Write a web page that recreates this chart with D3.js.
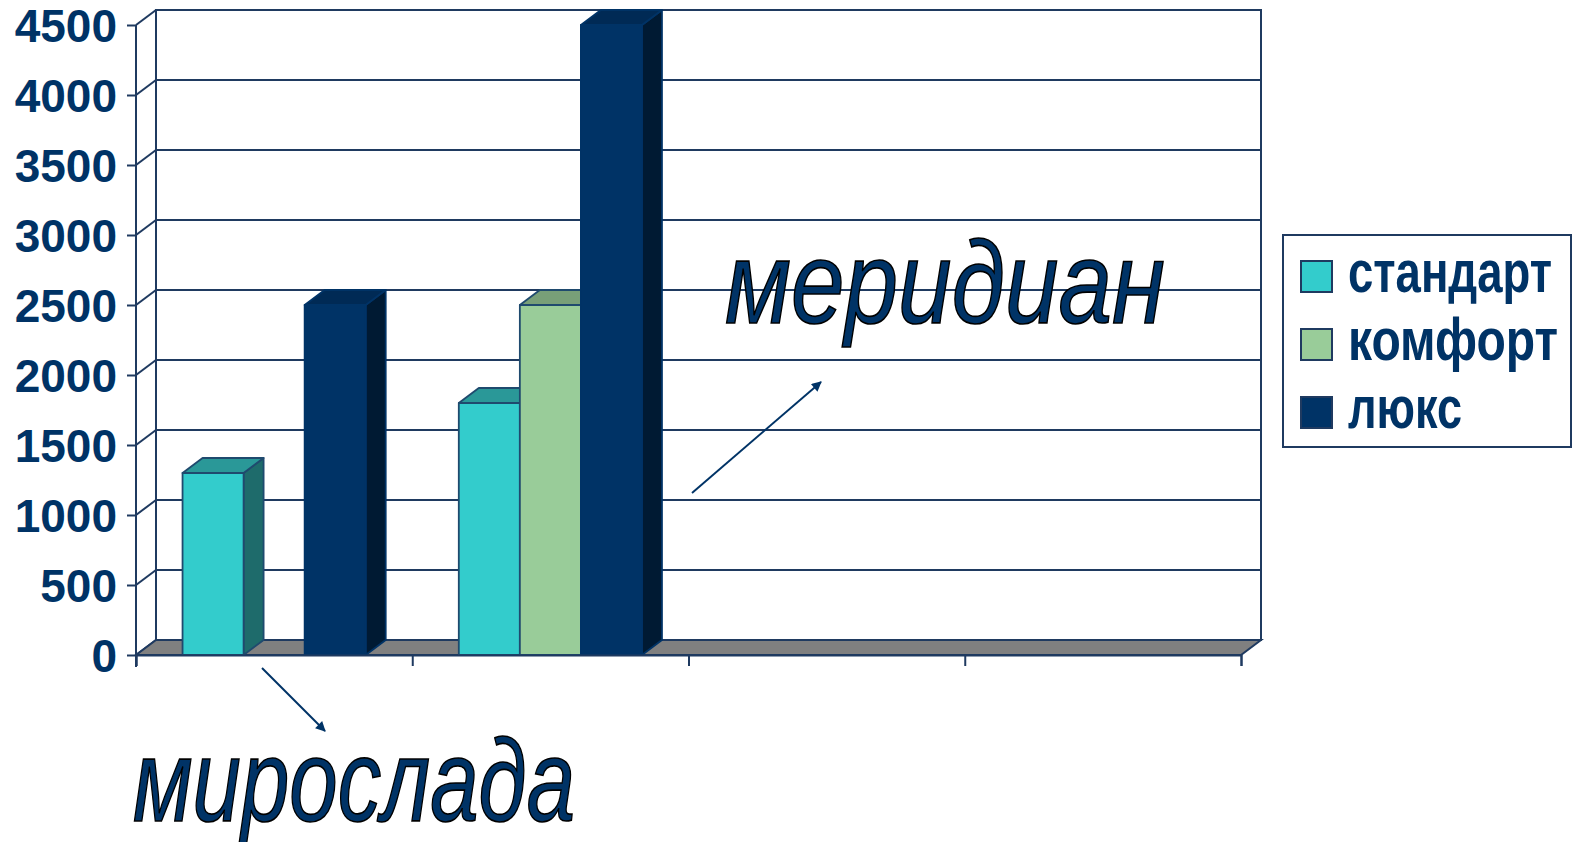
<!DOCTYPE html>
<html lang="ru">
<head>
<meta charset="UTF-8">
<title>3D columns</title>
<script src="https://d3js.org/d3.v7.min.js"></script>
<style>
  html, body { margin: 0; padding: 0; background: #fff; overflow: hidden; }
  svg { display: block; font-family: "Liberation Sans", Arial, sans-serif; }
</style>
</head>
<body>
<div id="chart"></div>
<script>
// data
const categories = ['мирослада', 'меридиан', '', '']
const seriesNames = ['стандарт', 'комфорт', 'люкс']
const standart = [1300, 1800, null, null]
const komfort = [null, 2500, null, null]
const lux = [2500, 4500, null, null]
const yTicks = [0, 500, 1000, 1500, 2000, 2500, 3000, 3500, 4000, 4500]

const seriesValues = [standart, komfort, lux]
const colors = [
  { front: '#33cccc', side: '#1e6b6b', top: '#2a9898', line: '#1f4a6e' },
  { front: '#99cc99', side: '#5f855f', top: '#789f78', line: '#1f4a6e' },
  { front: '#003366', side: '#001a33', top: '#002a55', line: '#003366' }
]
const navy = '#003366'
const gridCol = '#1f3a60'

const W = 1574, H = 842
const svg = d3.select('#chart').append('svg').attr('width', W).attr('height', H)

// 3d offset of depth
const dx = 20, dy = -15
const x0 = 136, x1 = 1241

const y = d3.scaleLinear().domain([0, 4500]).range([655, 25])
const x = d3.scaleBand().domain(d3.range(categories.length)).range([x0, x1])
  .paddingInner(0.337).paddingOuter(0.337 / 2)
const xs = d3.scaleBand().domain(d3.range(seriesNames.length)).range([0, x.bandwidth()])

// back wall
svg.append('rect')
  .attr('x', x0 + dx).attr('y', y(4500) + dy)
  .attr('width', x1 - x0).attr('height', y(0) - y(4500))
  .style('fill', '#fff').style('stroke', gridCol).style('stroke-width', 2)

// grid lines on back + left walls
const grid = svg.append('g').style('stroke', gridCol).style('stroke-width', 2).style('fill', 'none')
grid.selectAll('.gh').data(yTicks.slice(1)).enter().append('line')
  .attr('x1', x0 + dx).attr('x2', x1 + dx)
  .attr('y1', d => y(d) + dy).attr('y2', d => y(d) + dy)
grid.selectAll('.gd').data(yTicks).enter().append('line')
  .attr('x1', x0).attr('y1', d => y(d))
  .attr('x2', x0 + dx).attr('y2', d => y(d) + dy)
grid.append('line').attr('x1', x0 + dx).attr('x2', x0 + dx).attr('y1', y(0) + dy).attr('y2', y(4500) + dy)

// floor
svg.append('path')
  .attr('d', `M${x0},${y(0)} L${x1},${y(0)} L${x1 + dx},${y(0) + dy} L${x0 + dx},${y(0) + dy} Z`)
  .style('fill', '#808080').style('stroke', gridCol).style('stroke-width', 2)

// bars
const bars = svg.append('g')
categories.forEach((c, ci) => {
  seriesValues.forEach((vals, si) => {
    const v = vals[ci]
    if (v == null) return
    const col = colors[si]
    const bx = x(ci) + xs(si), bw = xs.bandwidth()
    const top = y(v), bot = y(0)
    const g = bars.append('g').style('stroke', col.line).style('stroke-width', 1.8).style('stroke-linejoin', 'round')
    g.append('path')
      .attr('d', `M${bx + bw},${bot} L${bx + bw + dx},${bot + dy} L${bx + bw + dx},${top + dy} L${bx + bw},${top} Z`)
      .style('fill', col.side)
    g.append('path')
      .attr('d', `M${bx},${top} L${bx + dx},${top + dy} L${bx + bw + dx},${top + dy} L${bx + bw},${top} Z`)
      .style('fill', col.top)
    g.append('rect').attr('x', bx).attr('y', top).attr('width', bw).attr('height', bot - top)
      .style('fill', col.front)
  })
})

// y axis
const yAxis = svg.append('g').attr('transform', `translate(${x0},0)`)
  .call(d3.axisLeft(y).tickValues(yTicks).tickSize(9).tickPadding(10).tickFormat(d3.format('d')))
yAxis.select('.domain').attr('d', `M0,${y(4500)}V${y(0) + 12}`)
yAxis.selectAll('line, path').style('stroke', gridCol).style('stroke-width', 2)
yAxis.selectAll('text').style('font-size', '46px').style('font-weight', 'bold').style('fill', navy)
  .attr('dy', '0.36em')

// x axis
const xAxis = svg.append('g').attr('transform', `translate(0,${y(0)})`)
  .call(d3.axisBottom(d3.scaleLinear().domain([0, categories.length]).range([x0, x1]))
    .tickValues(d3.range(categories.length + 1)).tickSize(11).tickFormat(''))
xAxis.selectAll('line, path').style('stroke', gridCol).style('stroke-width', 2)

// legend
const legend = svg.append('g')
legend.append('rect').attr('x', 1283).attr('y', 235).attr('width', 288).attr('height', 212)
  .style('fill', '#fff').style('stroke', gridCol).style('stroke-width', 2)
const legendWidths = [204, 210, 114]
const li = legend.selectAll('.li').data(seriesNames).enter().append('g')
  .attr('transform', (d, i) => `translate(1301,${261 + i * 68})`)
li.append('rect').attr('width', 31).attr('height', 31)
  .style('fill', (d, i) => colors[i].front).style('stroke', gridCol).style('stroke-width', 2)
li.append('text').text(d => d)
  .attr('transform', 'translate(47,31) scale(1,1.25)')
  .attr('textLength', (d, i) => legendWidths[i]).attr('lengthAdjust', 'spacingAndGlyphs')
  .style('font-size', '47px').style('font-weight', 'bold').style('fill', navy)

// arrows
const defs = svg.append('defs')
defs.append('marker').attr('id', 'ah').attr('viewBox', '0 0 10 10').attr('refX', 9).attr('refY', 5)
  .attr('markerWidth', 12).attr('markerHeight', 10).attr('markerUnits', 'userSpaceOnUse').attr('orient', 'auto')
  .append('path').attr('d', 'M0,0 L10,5 L0,10 Z').style('fill', navy)
const arrows = [[262, 668, 325, 731], [692, 493, 821, 382]]
svg.selectAll('.arrow').data(arrows).enter().append('line')
  .attr('x1', d => d[0]).attr('y1', d => d[1]).attr('x2', d => d[2]).attr('y2', d => d[3])
  .style('stroke', navy).style('stroke-width', 2).attr('marker-end', 'url(#ah)')

// category labels as big outlined captions
const captions = [
  { text: categories[1], x: 725, y: 323, w: 440 },
  { text: categories[0], x: 133, y: 821, w: 442 }
]
svg.selectAll('.cap').data(captions).enter().append('text')
  .text(d => d.text)
  .attr('transform', d => `translate(${d.x},${d.y}) scale(1,1.3)`)
  .attr('textLength', d => d.w).attr('lengthAdjust', 'spacingAndGlyphs')
  .style('font-size', '90px').style('font-style', 'italic').style('fill', navy)
  .style('stroke', '#000').style('stroke-width', 1.3).style('paint-order', 'fill')
</script>
</body>
</html>
